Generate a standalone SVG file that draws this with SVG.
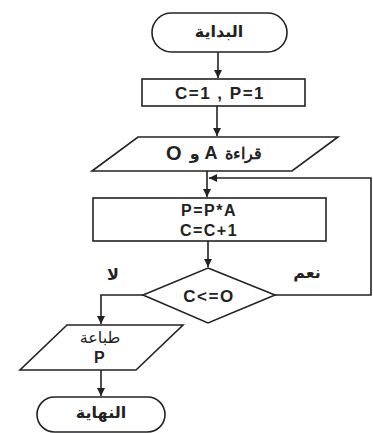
<svg xmlns="http://www.w3.org/2000/svg" width="373" height="433" viewBox="0 0 373 433">
<style>
.s{fill:#fff;stroke:#222;stroke-width:1.6}
.c{fill:none;stroke:#222;stroke-width:1.6}
.t{font-family:"Liberation Sans","Noto Sans",Arial,sans-serif;font-weight:bold;fill:#222;text-anchor:middle;dominant-baseline:central;letter-spacing:1.5px}
.ar{font-family:"Noto Sans","DejaVu Sans",sans-serif;font-size:16px;fill:#222;text-anchor:middle;dominant-baseline:central}
</style>
<defs>
<marker id="ah" viewBox="0 0 10 10" refX="10" refY="5" markerWidth="5" markerHeight="5" orient="auto" markerUnits="strokeWidth">
<path d="M0,0 L10,5 L0,10 z" fill="#222"/>
</marker>
</defs>
<rect width="373" height="433" fill="#fff"/>
<g id="connectors">
<line class="c" x1="218" y1="52" x2="218" y2="78" marker-end="url(#ah)"/>
<line class="c" x1="217" y1="106" x2="217" y2="136" marker-end="url(#ah)"/>
<line class="c" x1="207" y1="171" x2="207" y2="197" marker-end="url(#ah)"/>
<polyline class="c" points="275,295 371,295 371,178 209,178" marker-end="url(#ah)"/>
<line class="c" x1="208" y1="241" x2="208" y2="267" marker-end="url(#ah)"/>
<polyline class="c" points="143,295 101,295 101,324" marker-end="url(#ah)"/>
<line class="c" x1="101" y1="370" x2="101" y2="396" marker-end="url(#ah)"/>
</g>
<g id="start">
<rect class="s" x="152" y="13" width="135" height="39" rx="19.5"/>
<text class="ar" x="219" y="31" font-weight="bold">البداية</text>
</g>
<g id="init">
<rect class="s" x="142" y="79" width="163" height="27"/>
<text class="t" x="220" y="93" font-size="17">C=1 , P=1</text>
</g>
<g id="read">
<polygon class="s" points="138,137 338,137 292,171 92,171"/>
<text class="t" x="214" y="153" font-size="18" direction="ltr"><tspan font-size="20">O</tspan> <tspan class="ar" font-size="15" font-weight="bold">و</tspan> A <tspan font-family="Noto Sans" font-size="16" letter-spacing="0">قراءة</tspan></text>
</g>
<g id="process">
<rect class="s" x="93" y="198" width="233" height="43"/>
<text class="t" x="209" y="210" font-size="16">P=P*A</text>
<text class="t" x="209" y="230" font-size="16">C=C+1</text>
</g>
<g id="decision">
<polygon class="s" points="208,268 275,295 208,323 143,295"/>
<text class="t" x="209" y="296" font-size="17">C&lt;=O</text>
<text class="ar" x="113" y="274" font-weight="bold" font-size="14">لا</text>
<text class="ar" x="307" y="272" font-weight="bold" font-size="14">نعم</text>
</g>
<g id="print">
<polygon class="s" points="67,325 183,325 136,370 20,370"/>
<text class="ar" x="100" y="337" font-size="15">طباعة</text>
<text class="t" x="100" y="357" font-size="16">P</text>
</g>
<g id="end">
<rect class="s" x="37" y="397" width="128" height="35" rx="17.5"/>
<text class="ar" x="101" y="412" font-weight="bold">النهاية</text>
</g>
</svg>
